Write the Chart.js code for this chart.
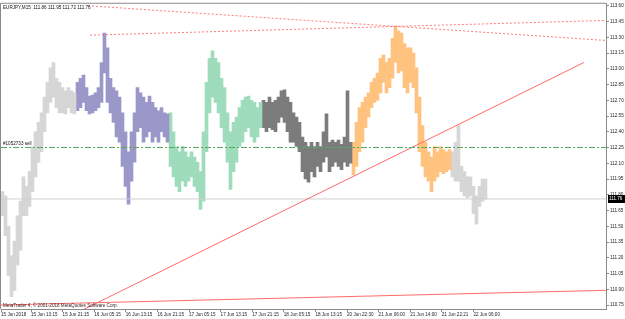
<!DOCTYPE html>
<html><head><meta charset="utf-8">
<script src="https://cdn.jsdelivr.net/npm/chart.js@4.4.1/dist/chart.umd.min.js"></script>
<style>html,body{margin:0;padding:0;background:#fff;overflow:hidden}canvas{display:block}</style>
</head><body>
<canvas id="c" width="625" height="319"></canvas>
<script>
// ---------- text ----------
const symbolTitle = "EURJPY,M15  111.86 111.95 111.72 111.76";
const copyright = "MetaTrader 4, \u00a9 2001-2018 MetaQuotes Software Corp.";
const orderLabel = "#1052733 sell";
const timeLabels = ["15 Jun 2018","15 Jun 13:15","15 Jun 21:15","16 Jun 05:15","16 Jun 13:15","16 Jun 21:15","17 Jun 05:15","17 Jun 13:15","17 Jun 21:15","18 Jun 05:15","18 Jun 13:15","20 Jun 22:30","21 Jun 06:00","21 Jun 14:00","21 Jun 22:21","22 Jun 06:00"];
const priceTicks = [110.75,110.90,111.05,111.20,111.35,111.50,111.65,111.80,111.95,112.10,112.25,112.40,112.55,112.70,112.85,113.00,113.15,113.30,113.45,113.60];

// ---------- price columns (high / low) ----------
const seg1High = [111.83,111.79,111.50,111.22,111.36,111.60,111.74,111.97,111.88,112.02,112.26,112.40,112.49,112.58,112.73,112.87,113.01,113.06,112.91,112.87,112.82,112.79,112.82,112.79,112.77];
const seg1Low  = [111.60,111.41,111.03,110.83,110.89,111.13,111.27,111.60,111.60,111.69,111.83,111.97,112.11,112.21,112.40,112.58,112.68,112.73,112.63,112.58,112.58,112.57,112.63,112.58,112.57];
const seg2High = [112.87,112.91,112.94,112.82,112.74,112.75,112.77,112.82,113.06,113.34,113.20,112.91,112.82,112.79,112.73,112.58,112.40,112.21,112.40,112.58,112.82,112.77,112.73,112.68,112.74,112.68,112.63,112.60,112.63,112.58,112.57];
const seg2Low  = [112.60,112.63,112.68,112.60,112.57,112.58,112.60,112.63,112.68,112.96,112.68,112.58,112.49,112.35,112.30,112.07,111.88,111.71,111.93,112.11,112.40,112.44,112.30,112.35,112.40,112.30,112.35,112.30,112.40,112.35,112.30];
const seg3High = [112.58,112.40,112.26,112.21,112.26,112.21,112.16,112.21,112.16,112.11,112.02,112.40,112.87,113.10,113.17,113.10,113.06,112.91,112.82,112.58,112.40,112.49,112.54,112.63,112.70,112.73,112.74,112.70,112.68,112.63,112.68];
const seg3Low  = [112.07,111.97,111.88,111.83,111.93,111.88,111.93,111.97,111.88,111.83,111.66,111.74,112.21,112.58,112.73,112.68,112.58,112.44,112.30,112.11,111.85,112.02,112.11,112.26,112.30,112.40,112.44,112.35,112.30,112.35,112.44];
const seg4High = [112.70,112.68,112.73,112.68,112.70,112.73,112.79,112.80,112.73,112.68,112.58,112.54,112.49,112.35,112.30,112.26,112.30,112.26,112.30,112.26,112.40,112.57,112.30,112.32,112.30,112.32,112.28,112.35,112.79,112.30];
const seg4Low  = [112.44,112.40,112.44,112.42,112.40,112.49,112.54,112.49,112.40,112.30,112.30,112.26,112.21,112.02,111.95,111.92,112.02,111.97,112.07,112.02,112.11,112.16,112.02,112.07,112.11,112.07,112.04,112.11,112.07,112.10];
const seg5High = [112.30,112.49,112.63,112.68,112.73,112.77,112.87,112.91,112.96,113.10,113.13,113.06,113.10,113.29,113.40,113.36,113.34,113.24,113.20,113.20,113.15,113.01,112.73,112.46,112.30,112.21,112.16,112.26,112.21,112.26,112.23,112.21,112.23];
const seg5Low  = [111.99,112.07,112.21,112.30,112.44,112.54,112.63,112.68,112.70,112.77,112.87,112.77,112.82,112.91,113.06,112.96,112.98,112.82,112.77,112.87,112.82,112.58,112.21,112.07,111.97,111.93,111.83,111.93,111.97,112.02,112.00,112.02,112.04];
const seg6High = [112.21,112.30,112.46,112.07,112.02,111.97,111.97,111.88,111.79,111.88,111.95,111.95];
const seg6Low  = [111.97,111.93,111.93,111.83,111.79,111.77,111.79,111.62,111.52,111.69,111.74,111.76];

// ---------- drawn objects (bar index, price) ----------
const trendLineX = [81, 583],  trendLineY = [110.70, 113.06];
const floorLineX = [0, 605],   floorLineY = [110.75, 110.89];
const fallLineX  = [87, 604],  fallLineY  = [113.60, 113.27];
const riseLineX  = [89, 604],  riseLineY  = [113.32, 113.46];
const orderPrice = 112.25;
const bidPrice = 111.76;

const BARS_PER_COLUMN = 3;
const X_MAX = 605;

const segments = [
  {hi: seg1High, lo: seg1Low, color: '#d6d6d6'},
  {hi: seg2High, lo: seg2Low, color: '#9b98c9'},
  {hi: seg3High, lo: seg3Low, color: '#9edcbc'},
  {hi: seg4High, lo: seg4Low, color: '#7c7c7c'},
  {hi: seg5High, lo: seg5Low, color: '#ffc37f'},
  {hi: seg6High, lo: seg6Low, color: '#d6d6d6'}
];

const datasets = [];
let col = 0;
segments.forEach(s => {
  const data = s.hi.map((h, i) => ({x: 1.5 + BARS_PER_COLUMN * (col + i), y: [s.lo[i], h]}));
  col += s.hi.length;
  datasets.push({type: 'bar', data, backgroundColor: s.color, borderWidth: 0, grouped: false, barThickness: 3, order: 2});
});

function line(xs, ys, color, dash, order) {
  return {type: 'line', data: xs.map((x, i) => ({x, y: ys[i]})), borderColor: color, borderWidth: 1,
          borderDash: dash || [], pointRadius: 0, tension: 0, fill: false, order: order};
}
datasets.push(line([0, X_MAX], [bidPrice, bidPrice], '#cfcfcf', null, 1));
datasets.push(line([0, X_MAX], [orderPrice, orderPrice], '#5aa85a', [6, 2, 2, 2], 0));
datasets.push(line(trendLineX, trendLineY, '#ff6a6a', null, 0));
datasets.push(line(floorLineX, floorLineY, '#ff6a6a', null, 0));
datasets.push(line(fallLineX, fallLineY, 'rgba(255,90,90,0.8)', [2, 2], 0));
datasets.push(line(riseLineX, riseLineY, 'rgba(255,90,90,0.8)', [2, 2], 0));

const FONT = 'Liberation Sans';
const overlay = {
  id: 'overlay',
  beforeDatasetsDraw(chart) {
    const ctx = chart.ctx, a = chart.chartArea;
    ctx.save();
    ctx.strokeStyle = '#8a8a8a'; ctx.lineWidth = 1;
    ctx.beginPath();
    ctx.moveTo(a.left - 0.5, a.bottom); ctx.lineTo(a.left - 0.5, a.top - 0.5); ctx.lineTo(a.right, a.top - 0.5);
    ctx.stroke();
    ctx.restore();
  },
  afterDraw(chart) {
    const ctx = chart.ctx, a = chart.chartArea, ys = chart.scales.y;
    ctx.save();
    ctx.font = '4.6px "' + FONT + '"';
    ctx.fillStyle = '#111';
    ctx.textAlign = 'left';
    ctx.textBaseline = 'top';
    ctx.fillText(symbolTitle, a.left + 2, a.top + 2);
    ctx.textBaseline = 'bottom';
    ctx.fillText(orderLabel, a.left + 2, ys.getPixelForValue(orderPrice) - 1);
    ctx.fillStyle = '#3a2020';
    ctx.fillText(copyright, a.left + 2, a.bottom - 0.5);
    const py = Math.round(ys.getPixelForValue(bidPrice));
    ctx.fillStyle = '#000';
    ctx.fillRect(a.right + 2, py - 4, 17, 8);
    ctx.fillStyle = '#fff';
    ctx.textBaseline = 'middle';
    ctx.fillText(bidPrice.toFixed(2), a.right + 3, py);
    ctx.restore();
  }
};

new Chart(document.getElementById('c'), {
  type: 'bar',
  data: {datasets},
  plugins: [overlay],
  options: {
    responsive: false, animation: false, devicePixelRatio: 1,
    layout: {padding: {left: 1, top: 1, right: 0, bottom: 0}},
    plugins: {legend: {display: false}, tooltip: {enabled: false}},
    scales: {
      x: {
        type: 'linear', min: 0, max: X_MAX, offset: false,
        afterBuildTicks: s => { s.ticks = timeLabels.map((_, k) => ({value: Math.max(0, 31.6 * k - 1.6)})); },
        afterFit: s => { s.height = 10; },
        ticks: {autoSkip: false, maxRotation: 0, align: 'start', padding: 0, color: '#222',
                font: {size: 4.6, family: FONT},
                callback: (v, i) => timeLabels[i]},
        grid: {drawOnChartArea: false, drawTicks: true, tickLength: 3, color: '#8a8a8a', offset: false},
        border: {color: '#8a8a8a'}
      },
      y: {
        type: 'linear', position: 'right', min: 110.712, max: 113.619,
        afterBuildTicks: s => { s.ticks = priceTicks.map(v => ({value: v})); },
        afterFit: s => { s.width = 19; },
        ticks: {padding: 1, color: '#222', font: {size: 4.6, family: FONT},
                callback: v => Number(v).toFixed(2)},
        grid: {drawOnChartArea: false, drawTicks: true, tickLength: 3, color: '#8a8a8a'},
        border: {color: '#8a8a8a'}
      }
    }
  }
});
</script>
</body></html>
